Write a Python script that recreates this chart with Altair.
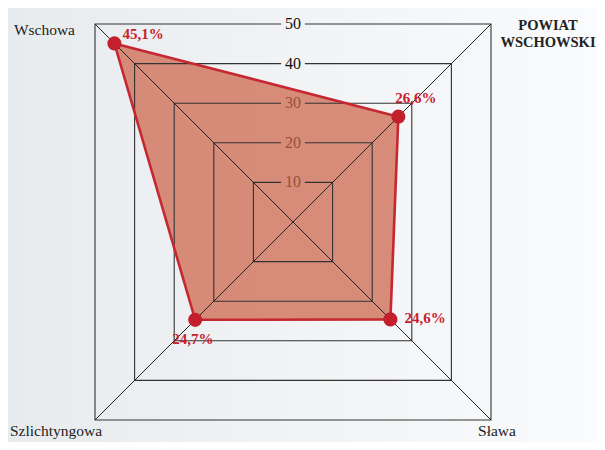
import math
import altair as alt
import pandas as pd

# ---- data ----
categories = ["Wschowa", "POWIAT\nWSCHOWSKI", "Sława", "Szlichtyngowa"]
values = [45.1, 26.6, 24.6, 24.7]
value_labels = ["45,1%", "26,6%", "24,6%", "24,7%"]
axis_angles = [135, 45, -45, -135]
levels = [10, 20, 30, 40, 50]
tick_labels = ["10", "20", "30", "40", "50"]
max_level = 50

GAP = 3  # gap in grid line around tick labels (data units)


def polar(r, ang):
    a = math.radians(ang)
    return r * math.sqrt(2) * math.cos(a), r * math.sqrt(2) * math.sin(a)


# polygon data
poly_rows = []
for i, (c, v, lab, ang) in enumerate(zip(categories, values, value_labels, axis_angles)):
    x, y = polar(v, ang)
    cx, cy = polar(max_level, ang)
    poly_rows.append(dict(cat=c, value=v, label=lab, order=i, x=x, y=y, cx=cx, cy=cy))
poly = pd.DataFrame(poly_rows)

# grid squares (open at the top where the tick label sits)
grid_rows = []
for L in levels:
    pts = [(GAP, L), (L, L), (L, -L), (-L, -L), (-L, L), (-GAP, L)]
    for k, (x, y) in enumerate(pts):
        grid_rows.append(dict(level=L, order=k, x=x, y=y))
grid = pd.DataFrame(grid_rows)

# diagonals
diag_rows = []
for ang in axis_angles:
    cx, cy = polar(max_level, ang)
    diag_rows.append(dict(axis=ang, order=0, x=0.0, y=0.0))
    diag_rows.append(dict(axis=ang, order=1, x=cx, y=cy))
diag = pd.DataFrame(diag_rows)

ticks = pd.DataFrame(dict(level=levels, label=tick_labels, x=[0.0] * len(levels)))

xs = alt.Scale(domain=[-max_level, max_level], nice=False, zero=False)
ys = alt.Scale(domain=[-max_level, max_level], nice=False, zero=False)
X = lambda f="x": alt.X(f"{f}:Q", scale=xs, axis=None)
Y = lambda f="y": alt.Y(f"{f}:Q", scale=ys, axis=None)

W, H = 396, 396
PL, PT, PR, PB = 87, 16, 106, 22

bg = alt.Chart(pd.DataFrame({"a": [0]})).mark_rect(
    color=alt.LinearGradient(
        gradient="linear",
        stops=[alt.GradientStop(color="#e8ebee", offset=0),
               alt.GradientStop(color="#fafbfc", offset=1)],
        x1=0, x2=1, y1=0, y2=0),
).encode(x=alt.value(-PL), x2=alt.value(W + PR), y=alt.value(-PT), y2=alt.value(H + PB))

tick_text = alt.Chart(ticks).mark_text(
    font="Liberation Serif", fontSize=16, color="#111111", align="center", baseline="middle"
).encode(x=X(), y=Y("level"), text="label:N")

fill = alt.Chart(poly).mark_line(
    interpolate="linear-closed", fill="#cc6448", fillOpacity=0.72, strokeOpacity=0
).encode(x=X(), y=Y(), order="order:Q")

grid_lines = alt.Chart(grid).mark_line(color="#333333", strokeWidth=1.1).encode(
    x=X(), y=Y(), detail="level:N", order="order:Q")

diag_lines = alt.Chart(diag).mark_line(color="#222222", strokeWidth=1).encode(
    x=X(), y=Y(), detail="axis:N", order="order:Q")

stroke = alt.Chart(poly).mark_line(
    interpolate="linear-closed", color="#c62832", strokeWidth=2.6
).encode(x=X(), y=Y(), order="order:Q")

points = alt.Chart(poly).mark_circle(size=200, color="#c3202e", opacity=1).encode(x=X(), y=Y())

# value labels
val_offsets = [(8, -9.5), (-3, -18.5), (14, -1), (-23, 19)]
val_layers = []
for c, (dx, dy) in zip(categories, val_offsets):
    val_layers.append(
        alt.Chart(poly).transform_filter(alt.datum.cat == c).mark_text(
            font="Liberation Serif", fontSize=15, fontWeight="bold", color="#c8202f",
            align="left", baseline="middle", dx=dx, dy=dy
        ).encode(x=X(), y=Y(), text="label:N"))

# category labels
cat_styles = [
    dict(align="right", dx=-20, dy=5.5, fontWeight="normal", fontSize=15.5),
    dict(align="center", dx=57, dy=2, fontWeight="bold", fontSize=14.5),
    dict(align="center", dx=6, dy=11, fontWeight="normal", fontSize=15.5),
    dict(align="left", dx=-85, dy=11, fontWeight="normal", fontSize=15.5),
]
cat_layers = []
for c, st in zip(categories, cat_styles):
    cat_layers.append(
        alt.Chart(poly).transform_filter(alt.datum.cat == c).mark_text(
            font="Liberation Serif", color="#222222", baseline="middle",
            lineBreak="\n", lineHeight=16.5, **st
        ).encode(x=X("cx"), y=Y("cy"), text="cat:N"))

chart = alt.layer(
    bg, tick_text, fill, grid_lines, diag_lines, stroke, points, *val_layers, *cat_layers
).properties(
    width=W, height=H,
    padding={"left": PL, "top": PT, "right": PR, "bottom": PB},
    autosize=alt.AutoSizeParams(type="none"),
).configure_view(stroke=None)

chart.save("out.html", embed_options={"renderer": "svg", "actions": False})
